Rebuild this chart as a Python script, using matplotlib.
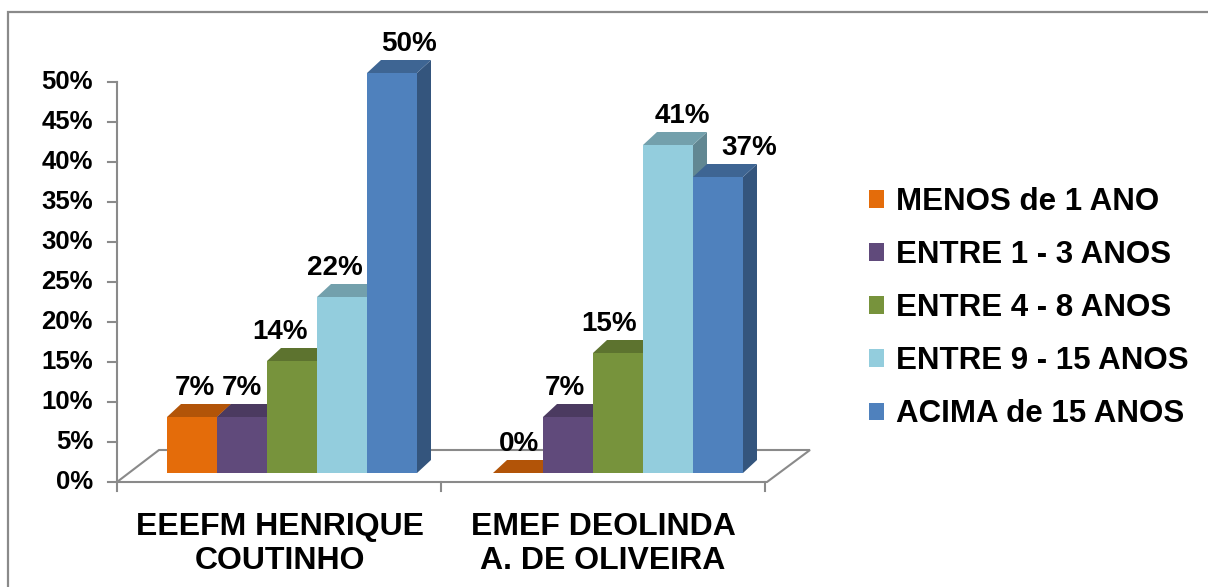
import matplotlib
matplotlib.use('Agg')
import matplotlib.pyplot as plt
from matplotlib.patches import Polygon
from matplotlib import font_manager
from matplotlib.colors import to_rgb

schools = ['EEEFM HENRIQUE\nCOUTINHO', 'EMEF DEOLINDA\nA. DE OLIVEIRA']
series = ['MENOS de 1 ANO', 'ENTRE 1 - 3 ANOS', 'ENTRE 4 - 8 ANOS',
          'ENTRE 9 - 15 ANOS', 'ACIMA de 15 ANOS']
henrique = [7, 7, 14, 22, 50]
deolinda = [0, 7, 15, 41, 37]
yticks = [0, 5, 10, 15, 20, 25, 30, 35, 40, 45, 50]

colors = ['#E46C0A', '#604A7B', '#77933C', '#93CDDD', '#4F81BD']
grey = '#8A8A8A'

plt.rcParams['font.family'] = ['Liberation Sans', 'DejaVu Sans']
names = {f.name for f in font_manager.fontManager.ttflist}
if 'Liberation Sans Narrow' in names:
    cat_font, cat_size = ['Liberation Sans Narrow', 'Liberation Sans'], 28
else:
    cat_font, cat_size = ['Liberation Sans', 'DejaVu Sans'], 23


def shade(c, f):
    r, g, b = to_rgb(c)
    return (r * f, g * f, b * f)


# 1 % = 8 px vertically, x axis in pixels
PX = 8.0
DX = 14
DY = 13 / PX
AX_OFF = -9 / PX          # value axis sits a little in front of the bars

fig = plt.figure(figsize=(12.08, 5.87), dpi=100)
ax = fig.add_axes([0, 0, 1, 1])
ax.set_xlim(0, 1208)
ax.set_ylim(-(587 - 473) / PX, 473 / PX)
ax.axis('off')


def py(p):
    # pixel row from the top -> data units
    return (473 - p) / PX


# outer frame
ax.plot([8, 8, 1208], [py(600), py(12), py(12)], color=grey, lw=1.6,
        solid_joinstyle='miter', clip_on=False)

# floor
floor = Polygon([(117, py(482)), (767, py(482)), (810, py(450)), (159, py(450))],
                closed=True, facecolor='white', edgecolor=grey, lw=1.5)
ax.add_patch(floor)

# value axis
ax.plot([117, 117], [AX_OFF, 50 + AX_OFF], color=grey, lw=1.5)
for t in yticks:
    ax.plot([108, 117], [t + AX_OFF, t + AX_OFF], color=grey, lw=1.5)
    ax.text(93, t + AX_OFF, f'{t}%', ha='right', va='center',
            fontsize=18.5, fontweight='bold')

# category ticks + labels
for xt in [117, 441, 765]:
    ax.plot([xt, xt], [py(482), py(491)], color=grey, lw=1.5)
cat_centers = [279.5, 603]
for cx, name in zip(cat_centers, schools):
    for k, line in enumerate(name.split('\n')):
        ax.text(cx, py(535 + 34 * k), line, ha='center', va='baseline',
                fontsize=cat_size, fontweight='bold', family=cat_font)

# bars
group_left = [167, 493]
bar_w = 50
label_nudge = [[3, 0, -12, -7, 17], [1, -3, -9, 14, 31]]
handles = []
for g, vals in enumerate([henrique, deolinda]):
    for i, v in enumerate(vals):
        x0 = group_left[g] + i * bar_w
        x1 = x0 + bar_w
        side = Polygon([(x1, 0), (x1 + DX, DY), (x1 + DX, v + DY), (x1, v)],
                       closed=True, facecolor=shade(colors[i], 0.66), lw=0)
        ax.add_patch(side)
        b = ax.bar(x0, v, width=bar_w, bottom=0, align='edge',
                   color=colors[i], lw=0, label=series[i])
        top = Polygon([(x0, v), (x1, v), (x1 + DX, v + DY), (x0 + DX, v + DY)],
                      closed=True, facecolor=shade(colors[i], 0.78), lw=0)
        ax.add_patch(top)
        if g == 0:
            handles.append(b)
        ax.text(x0 + bar_w / 2 + label_nudge[g][i], v + DY + 9 / PX, f'{v}%',
                ha='center', va='baseline', fontsize=20, fontweight='bold')

leg = ax.legend(handles=handles, labels=series, loc='upper left',
                bbox_to_anchor=(869 / 1208, 1 - 187 / 587),
                frameon=False, prop={'weight': 'bold', 'size': 22.5},
                handlelength=0.49, handleheight=0.49, handletextpad=0.36,
                labelspacing=0.74, borderpad=0, borderaxespad=0)

fig.savefig('out.png', dpi=100)
